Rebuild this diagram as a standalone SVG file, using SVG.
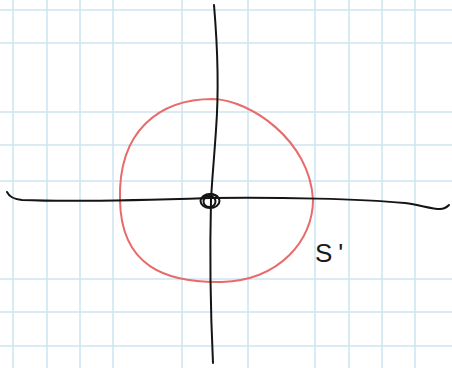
<svg xmlns="http://www.w3.org/2000/svg" width="452" height="368" viewBox="0 0 452 368">
<style>
.grid line{stroke:#cfe5f0;stroke-width:1.6}
.axis{fill:none;stroke:#141414;stroke-width:2;stroke-linecap:round;stroke-linejoin:round}
.curve{fill:none;stroke:#e86a6a;stroke-width:2;stroke-linejoin:round}
.lbl{font-family:"Liberation Sans","DejaVu Sans",sans-serif;font-size:26px;fill:#1a1a1a}
</style>
<rect width="452" height="368" fill="#ffffff"/>
<g id="grid" class="grid">
<line x1="13" y1="0" x2="13" y2="368"/>
<line x1="47" y1="0" x2="47" y2="368"/>
<line x1="80" y1="0" x2="80" y2="368"/>
<line x1="113" y1="0" x2="113" y2="368"/>
<line x1="182" y1="0" x2="182" y2="368"/>
<line x1="248" y1="0" x2="248" y2="368"/>
<line x1="315" y1="0" x2="315" y2="368"/>
<line x1="349" y1="0" x2="349" y2="368"/>
<line x1="382" y1="0" x2="382" y2="368"/>
<line x1="415" y1="0" x2="415" y2="368"/>
<line x1="0" y1="10" x2="452" y2="10"/>
<line x1="0" y1="43" x2="452" y2="43"/>
<line x1="0" y1="112" x2="452" y2="112"/>
<line x1="0" y1="145" x2="452" y2="145"/>
<line x1="0" y1="181" x2="452" y2="181"/>
<line x1="0" y1="279" x2="452" y2="279"/>
<line x1="0" y1="312" x2="452" y2="312"/>
<line x1="0" y1="346" x2="452" y2="346"/>
</g>
<g id="circle-S">
<path class="curve" d="M213,99 C250,100 310,140 313,200 C313,240 280,280 222,282 C165,283 121,266 120,200 C118,130 160,99 213,99 Z"/>
</g>
<g id="axes">
<path id="y-axis" class="axis" d="M214,5 C217,40 219,90 216,130 C214,160 212,180 211,200 C210,240 210,300 213,363"/>
<path id="x-axis" class="axis" d="M7,192 C9,196 12,199 22,200 C70,202 150,200 210,198 C280,197 360,199 405,203 C420,205 432,209 440,209 C444,209 447,207 449,205"/>
</g>
<g id="origin" fill="none" stroke="#141414" stroke-width="2">
<ellipse cx="210" cy="201" rx="9.5" ry="7"/>
<ellipse cx="209.5" cy="201.5" rx="6" ry="5.5"/>
<path d="M202,199 C206,193 214,193 218,197"/>
</g>
<g id="label">
<text class="lbl" x="315" y="262" letter-spacing="6">S'</text>
</g>
</svg>
